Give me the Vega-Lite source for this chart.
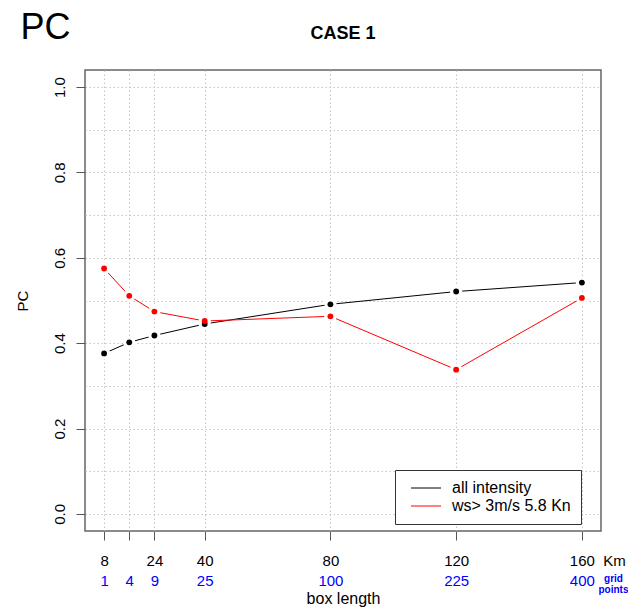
{
  "$schema": "https://vega.github.io/schema/vega-lite/v6.json",
  "width": 516,
  "height": 461,
  "autosize": {"type": "none"},
  "padding": {"left": 85, "top": 70, "right": 27, "bottom": 76},
  "background": "white",
  "title": {"text": "CASE 1", "anchor": "middle", "frame": "group", "fontSize": 18, "fontWeight": "bold", "font": "Liberation Sans", "color": "black", "offset": -48, "baseline": "alphabetic"},
  "config": {
    "view": {"stroke": "#666666", "strokeWidth": 1.5},
    "font": "Liberation Sans",
    "axis": {"labelFont": "Liberation Sans", "titleFont": "Liberation Sans", "labelColor": "black", "titleColor": "black", "labelFlush": false, "labelOverlap": false}
  },
  "data": {
    "values": [
      {"box": 8, "series": "all intensity", "pc": 0.376},
      {"box": 16, "series": "all intensity", "pc": 0.402},
      {"box": 24, "series": "all intensity", "pc": 0.418},
      {"box": 40, "series": "all intensity", "pc": 0.445},
      {"box": 80, "series": "all intensity", "pc": 0.491},
      {"box": 120, "series": "all intensity", "pc": 0.521},
      {"box": 160, "series": "all intensity", "pc": 0.542},
      {"box": 8, "series": "ws> 3m/s 5.8 Kn", "pc": 0.575},
      {"box": 16, "series": "ws> 3m/s 5.8 Kn", "pc": 0.511},
      {"box": 24, "series": "ws> 3m/s 5.8 Kn", "pc": 0.474},
      {"box": 40, "series": "ws> 3m/s 5.8 Kn", "pc": 0.452},
      {"box": 80, "series": "ws> 3m/s 5.8 Kn", "pc": 0.463},
      {"box": 120, "series": "ws> 3m/s 5.8 Kn", "pc": 0.338},
      {"box": 160, "series": "ws> 3m/s 5.8 Kn", "pc": 0.506}
    ]
  },
  "layer": [
    {
      "mark": {"type": "line", "strokeWidth": 1},
      "encoding": {
        "x": {"field": "box", "type": "quantitative",
          "scale": {"domain": [1.92, 166.08], "nice": false, "zero": false},
          "axis": {"orient": "bottom", "values": [8, 16, 24, 40, 80, 120, 160],
            "labelExpr": "datum.value == 16 ? '' : datum.label",
            "grid": true, "gridDash": [1.5, 2.5], "gridColor": "#c4c4c4", "gridWidth": 1,
            "domain": false, "ticks": true, "tickSize": 9, "tickColor": "#555555",
            "labelFontSize": 15, "labelPadding": 13,
            "title": "box length", "titleFontSize": 16, "titleFontWeight": "normal", "titlePadding": 22}},
        "y": {"field": "pc", "type": "quantitative",
          "scale": {"domain": [-0.04, 1.04], "nice": false, "zero": false},
          "axis": {"orient": "left", "values": [0, 0.2, 0.4, 0.6, 0.8, 1], "format": ".1f",
            "labelAngle": -90, "labelAlign": "center", "labelBaseline": "bottom",
            "grid": false, "domain": false, "tickSize": 9, "tickColor": "#555555",
            "labelFontSize": 15, "labelPadding": 9,
            "title": "PC", "titleFontSize": 15, "titleFontWeight": "normal", "titlePadding": 22}},
        "color": {"field": "series", "type": "nominal",
          "scale": {"domain": ["all intensity", "ws> 3m/s 5.8 Kn"], "range": ["#000000", "#ff0000"]},
          "legend": {"orient": "none", "legendX": 310, "legendY": 400, "title": null,
            "strokeColor": "#333333", "fillColor": "white", "padding": 10,
            "symbolType": "M-3,0H3", "symbolSize": 100, "symbolStrokeWidth": 1, "symbolOffset": 13,
            "labelFontSize": 16, "labelFont": "Liberation Sans", "labelColor": "black", "labelOffset": 18, "rowPadding": 2}}
      }
    },
    {
      "mark": {"type": "point", "shape": "circle", "filled": true, "color": "white", "opacity": 1, "size": 150},
      "encoding": {
        "x": {"field": "box", "type": "quantitative",
          "axis": {"orient": "bottom", "values": [8, 16, 24, 40, 80, 120, 160],
            "labelExpr": "datum.value == 8 ? '1' : datum.value == 16 ? '4' : datum.value == 24 ? '9' : datum.value == 40 ? '25' : datum.value == 80 ? '100' : datum.value == 120 ? '225' : '400'",
            "grid": false, "domain": false, "ticks": false, "tickSize": 0,
            "labelFontSize": 15, "labelColor": "#0000ff", "labelPadding": 42, "title": null}},
        "y": {"field": "pc", "type": "quantitative",
          "axis": {"orient": "left", "values": [0, 0.1, 0.2, 0.3, 0.4, 0.5, 0.6, 0.7, 0.8, 0.9, 1],
            "grid": true, "gridDash": [1.5, 2.5], "gridColor": "#c4c4c4", "gridWidth": 1,
            "labels": false, "ticks": false, "domain": false, "title": null}}
      }
    },
    {
      "mark": {"type": "point", "shape": "circle", "filled": true, "opacity": 1, "size": 34},
      "encoding": {
        "x": {"field": "box", "type": "quantitative",
          "axis": {"orient": "bottom", "values": [160], "labelExpr": "'Km'", "labelOffset": 32,
            "grid": false, "domain": false, "ticks": false, "tickSize": 0,
            "labelFontSize": 15, "labelPadding": 22,
            "title": ["grid", "points"], "titleX": 528, "titleY": 42, "titleFontSize": 10, "titleFontWeight": "bold",
            "titleColor": "#0000ff", "titleLineHeight": 11, "titleAlign": "center", "titleBaseline": "top", "titleAngle": 0}},
        "y": {"field": "pc", "type": "quantitative",
          "axis": {"orient": "left", "grid": false, "labels": false, "ticks": false, "domain": false,
            "title": "PC", "titleAngle": 0, "titleX": -65, "titleY": -32, "titleFontSize": 36, "titleFontWeight": "normal",
            "titleAlign": "left", "titleBaseline": "alphabetic"}},
        "fill": {"field": "series", "type": "nominal",
          "scale": {"domain": ["all intensity", "ws> 3m/s 5.8 Kn"], "range": ["#000000", "#ff0000"]},
          "legend": null}
      }
    }
  ],
  "resolve": {"scale": {"x": "shared", "y": "shared"}, "axis": {"x": "independent", "y": "independent"}}
}
